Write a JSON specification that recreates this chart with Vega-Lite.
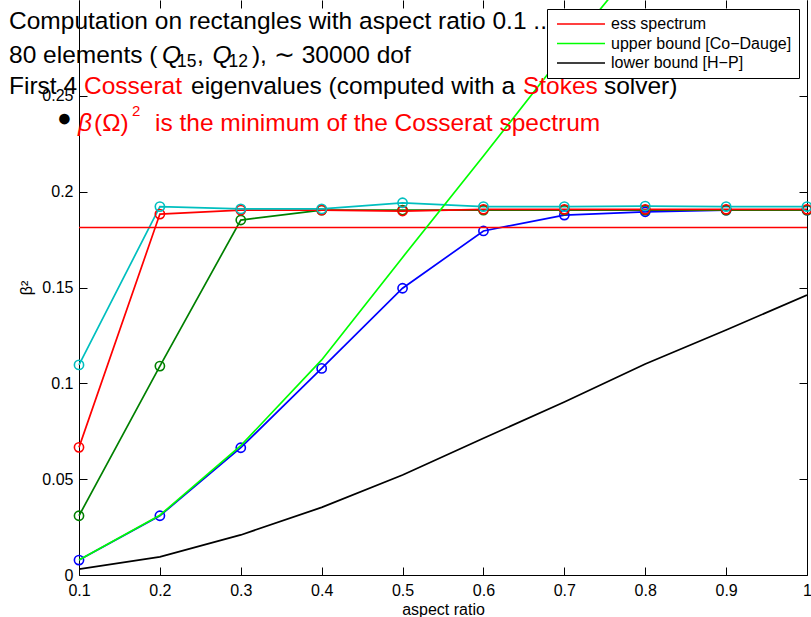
{
  "$schema": "https://vega.github.io/schema/vega-lite/v6.json",
  "width": 728,
  "height": 575,
  "autosize": {"type": "none"},
  "padding": {"left": 79, "top": 0, "right": 4, "bottom": 42},
  "background": "white",
  "config": {
    "font": "Liberation Sans",
    "view": {"stroke": null},
    "axis": {
      "grid": false, "domainColor": "black", "tickColor": "black", "labelColor": "black", "titleColor": "black",
      "labelFont": "Liberation Sans", "titleFont": "Liberation Sans", "labelFontSize": 16, "titleFontSize": 16,
      "titleFontWeight": "normal", "tickSize": -8, "domainWidth": 1, "tickWidth": 1, "labelFlush": false
    }
  },
  "datasets": {
    "eig": [
      {"a": 0.1, "v": 0.0078, "s": "e1"}, {"a": 0.2, "v": 0.0309, "s": "e1"}, {"a": 0.3, "v": 0.0664, "s": "e1"}, {"a": 0.4, "v": 0.1078, "s": "e1"}, {"a": 0.5, "v": 0.1496, "s": "e1"},
      {"a": 0.6, "v": 0.1795, "s": "e1"}, {"a": 0.7, "v": 0.1878, "s": "e1"}, {"a": 0.8, "v": 0.1895, "s": "e1"}, {"a": 0.9, "v": 0.1904, "s": "e1"}, {"a": 1.0, "v": 0.1904, "s": "e1"},
      {"a": 0.1, "v": 0.0309, "s": "e2"}, {"a": 0.2, "v": 0.1090, "s": "e2"}, {"a": 0.3, "v": 0.1852, "s": "e2"}, {"a": 0.4, "v": 0.1904, "s": "e2"}, {"a": 0.5, "v": 0.1904, "s": "e2"},
      {"a": 0.6, "v": 0.1904, "s": "e2"}, {"a": 0.7, "v": 0.1904, "s": "e2"}, {"a": 0.8, "v": 0.1904, "s": "e2"}, {"a": 0.9, "v": 0.1904, "s": "e2"}, {"a": 1.0, "v": 0.1904, "s": "e2"},
      {"a": 0.1, "v": 0.0666, "s": "e3"}, {"a": 0.2, "v": 0.1883, "s": "e3"}, {"a": 0.3, "v": 0.1904, "s": "e3"}, {"a": 0.4, "v": 0.1904, "s": "e3"}, {"a": 0.5, "v": 0.1899, "s": "e3"},
      {"a": 0.6, "v": 0.1908, "s": "e3"}, {"a": 0.7, "v": 0.1908, "s": "e3"}, {"a": 0.8, "v": 0.1908, "s": "e3"}, {"a": 0.9, "v": 0.1908, "s": "e3"}, {"a": 1.0, "v": 0.1908, "s": "e3"},
      {"a": 0.1, "v": 0.1096, "s": "e4"}, {"a": 0.2, "v": 0.1922, "s": "e4"}, {"a": 0.3, "v": 0.1910, "s": "e4"}, {"a": 0.4, "v": 0.1910, "s": "e4"}, {"a": 0.5, "v": 0.1942, "s": "e4"},
      {"a": 0.6, "v": 0.1922, "s": "e4"}, {"a": 0.7, "v": 0.1922, "s": "e4"}, {"a": 0.8, "v": 0.1925, "s": "e4"}, {"a": 0.9, "v": 0.1922, "s": "e4"}, {"a": 1.0, "v": 0.1922, "s": "e4"}
    ],
    "bounds": [
      {"a": 0.1, "v": 0.1813, "s": "ess spectrum"}, {"a": 1.0, "v": 0.1813, "s": "ess spectrum"},
      {"a": 0.1, "v": 0.0078, "s": "upper bound [Co−Dauge]"}, {"a": 0.2, "v": 0.0312, "s": "upper bound [Co−Dauge]"}, {"a": 0.3, "v": 0.0675, "s": "upper bound [Co−Dauge]"},
      {"a": 0.4, "v": 0.1122, "s": "upper bound [Co−Dauge]"}, {"a": 0.5, "v": 0.1657, "s": "upper bound [Co−Dauge]"}, {"a": 0.6, "v": 0.2186, "s": "upper bound [Co−Dauge]"},
      {"a": 0.7, "v": 0.2723, "s": "upper bound [Co−Dauge]"}, {"a": 0.8, "v": 0.3239, "s": "upper bound [Co−Dauge]"}, {"a": 0.9, "v": 0.376, "s": "upper bound [Co−Dauge]"},
      {"a": 1.0, "v": 0.428, "s": "upper bound [Co−Dauge]"},
      {"a": 0.1, "v": 0.0031, "s": "lower bound [H−P]"}, {"a": 0.2, "v": 0.0095, "s": "lower bound [H−P]"}, {"a": 0.3, "v": 0.0209, "s": "lower bound [H−P]"},
      {"a": 0.4, "v": 0.0353, "s": "lower bound [H−P]"}, {"a": 0.5, "v": 0.0522, "s": "lower bound [H−P]"}, {"a": 0.6, "v": 0.0713, "s": "lower bound [H−P]"},
      {"a": 0.7, "v": 0.0903, "s": "lower bound [H−P]"}, {"a": 0.8, "v": 0.1101, "s": "lower bound [H−P]"}, {"a": 0.9, "v": 0.1278, "s": "lower bound [H−P]"},
      {"a": 1.0, "v": 0.1461, "s": "lower bound [H−P]"}
    ],
    "txt": [
      {"a": 0.0135, "v": 0.2849, "t": "Computation on rectangles with aspect ratio 0.1 ...", "emph": "k", "kind": "n"},
      {"a": 0.0135, "v": 0.2671, "t": "80 elements (", "emph": "k", "kind": "n"},
      {"a": 0.2026, "v": 0.2671, "t": "Q", "emph": "k", "kind": "i"},
      {"a": 0.2211, "v": 0.2650, "t": "15", "emph": "k", "kind": "s"},
      {"a": 0.2458, "v": 0.2671, "t": ",", "emph": "k", "kind": "n"},
      {"a": 0.2650, "v": 0.2671, "t": "Q", "emph": "k", "kind": "i"},
      {"a": 0.2848, "v": 0.2650, "t": "12", "emph": "k", "kind": "s"},
      {"a": 0.3138, "v": 0.2671, "t": "),", "emph": "k", "kind": "n"},
      {"a": 0.3410, "v": 0.2671, "t": "∼ 30000 dof", "emph": "k", "kind": "n"},
      {"a": 0.0135, "v": 0.2510, "t": "First 4", "emph": "k", "kind": "n"},
      {"a": 0.1062, "v": 0.2510, "t": "Cosserat", "emph": "r", "kind": "n"},
      {"a": 0.2385, "v": 0.2510, "t": "eigenvalues (computed with a", "emph": "k", "kind": "n"},
      {"a": 0.6488, "v": 0.2510, "t": "Stokes", "emph": "r", "kind": "n"},
      {"a": 0.7489, "v": 0.2510, "t": "solver)", "emph": "k", "kind": "n"},
      {"a": 0.0728, "v": 0.2343, "t": "●", "emph": "k", "kind": "n"},
      {"a": 0.0988, "v": 0.2317, "t": "β", "emph": "r", "kind": "i"},
      {"a": 0.1186, "v": 0.2317, "t": "(Ω)", "emph": "r", "kind": "n"},
      {"a": 0.1655, "v": 0.2395, "t": "2", "emph": "r", "kind": "p"},
      {"a": 0.1939, "v": 0.2317, "t": "is the minimum of the Cosserat spectrum", "emph": "r", "kind": "n"}
    ]
  },
  "layer": [
    {
      "data": {"name": "eig"},
      "mark": {"type": "line", "strokeWidth": 1.7},
      "encoding": {
        "x": {"field": "a", "type": "quantitative", "scale": {"domain": [0.1, 1], "nice": false, "zero": false},
              "axis": {"orient": "bottom", "values": [0.1, 0.2, 0.3, 0.4, 0.5, 0.6, 0.7, 0.8, 0.9, 1], "format": "~g", "title": "aspect ratio", "labelPadding": 15, "titlePadding": 3}},
        "y": {"field": "v", "type": "quantitative", "scale": {"domain": [0, 0.3], "nice": false},
              "axis": {"orient": "left", "values": [0, 0.05, 0.1, 0.15, 0.2, 0.25], "format": "~g", "title": "β²", "labelPadding": 14, "titlePadding": 7}},
        "color": {"field": "s", "type": "nominal", "scale": {"domain": ["e1", "e2", "e3", "e4"], "range": ["#0000ff", "#008000", "#ff0000", "#00bfbf"]}, "legend": null}
      }
    },
    {
      "data": {"name": "eig"},
      "mark": {"type": "point", "shape": "circle", "filled": false, "size": 85, "strokeWidth": 1.6, "opacity": 1},
      "encoding": {
        "x": {"field": "a", "type": "quantitative", "axis": null},
        "y": {"field": "v", "type": "quantitative", "axis": null},
        "color": {"field": "s", "type": "nominal", "scale": {"domain": ["e1", "e2", "e3", "e4"], "range": ["#0000ff", "#008000", "#ff0000", "#00bfbf"]}, "legend": null}
      }
    },
    {
      "data": {"name": "bounds"},
      "mark": {"type": "line", "strokeWidth": 1.7, "clip": true},
      "encoding": {
        "x": {"field": "a", "type": "quantitative",
              "axis": {"orient": "top", "values": [0.1, 0.2, 0.3, 0.4, 0.5, 0.6, 0.7, 0.8, 0.9, 1], "labels": false, "title": null, "domain": false}},
        "y": {"field": "v", "type": "quantitative",
              "axis": {"orient": "right", "values": [0, 0.05, 0.1, 0.15, 0.2, 0.25], "labels": false, "title": null}},
        "color": {"field": "s", "type": "nominal", "sort": null,
                  "scale": {"domain": ["ess spectrum", "upper bound [Co−Dauge]", "lower bound [H−P]"], "range": ["#ff0000", "#00ff00", "#000000"]},
                  "legend": {"orient": "none", "legendX": 468, "legendY": 9, "title": null, "symbolType": "M-4.8,0H4.8", "symbolSize": 100, "symbolStrokeWidth": 1.5,
                             "symbolOffset": 19, "labelFontSize": 16, "labelOffset": 22, "padding": 7, "rowPadding": 3.5, "fillColor": "white", "strokeColor": "black",
                             "labelFont": "Liberation Sans", "labelColor": "black", "labelLimit": 400}}
      }
    },
    {
      "data": {"name": "txt"},
      "transform": [{"filter": "datum.kind == 'n'"}],
      "mark": {"type": "text", "align": "left", "baseline": "alphabetic", "fontSize": 24.5, "font": "Liberation Sans"},
      "encoding": {
        "x": {"field": "a", "type": "quantitative", "axis": null},
        "y": {"field": "v", "type": "quantitative", "axis": null},
        "text": {"field": "t"},
        "color": {"field": "emph", "type": "nominal", "scale": {"domain": ["k", "r"], "range": ["#000000", "#ff0000"]}, "legend": null}
      }
    },
    {
      "data": {"name": "txt"},
      "transform": [{"filter": "datum.kind == 'i'"}],
      "mark": {"type": "text", "align": "left", "baseline": "alphabetic", "fontSize": 24.5, "fontStyle": "italic", "font": "Liberation Sans"},
      "encoding": {
        "x": {"field": "a", "type": "quantitative", "axis": null},
        "y": {"field": "v", "type": "quantitative", "axis": null},
        "text": {"field": "t"},
        "color": {"field": "emph", "type": "nominal", "scale": {"domain": ["k", "r"], "range": ["#000000", "#ff0000"]}, "legend": null}
      }
    },
    {
      "data": {"name": "txt"},
      "transform": [{"filter": "datum.kind == 's'"}],
      "mark": {"type": "text", "align": "left", "baseline": "alphabetic", "fontSize": 17.5, "font": "Liberation Sans"},
      "encoding": {
        "x": {"field": "a", "type": "quantitative", "axis": null},
        "y": {"field": "v", "type": "quantitative", "axis": null},
        "text": {"field": "t"},
        "color": {"field": "emph", "type": "nominal", "scale": {"domain": ["k", "r"], "range": ["#000000", "#ff0000"]}, "legend": null}
      }
    },
    {
      "data": {"name": "txt"},
      "transform": [{"filter": "datum.kind == 'p'"}],
      "mark": {"type": "text", "align": "left", "baseline": "alphabetic", "fontSize": 15, "font": "Liberation Sans"},
      "encoding": {
        "x": {"field": "a", "type": "quantitative", "axis": null},
        "y": {"field": "v", "type": "quantitative", "axis": null},
        "text": {"field": "t"},
        "color": {"field": "emph", "type": "nominal", "scale": {"domain": ["k", "r"], "range": ["#000000", "#ff0000"]}, "legend": null}
      }
    }
  ],
  "resolve": {"scale": {"color": "independent"}, "axis": {"x": "independent", "y": "independent"}}
}
